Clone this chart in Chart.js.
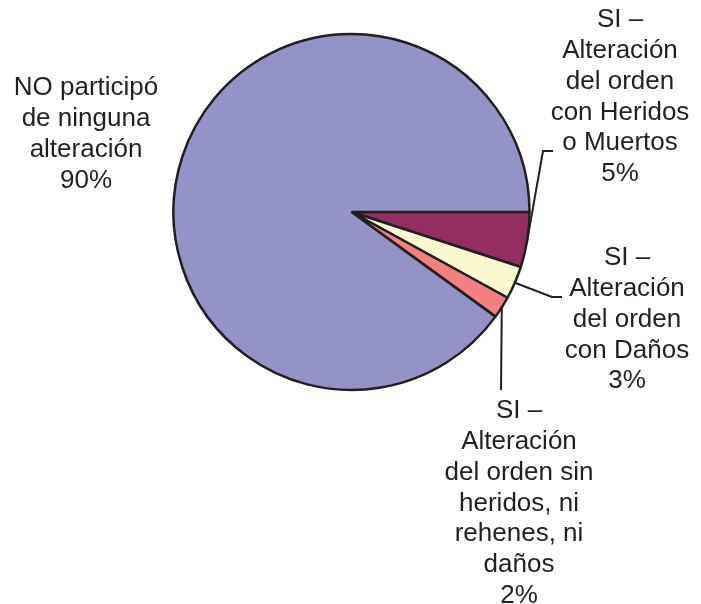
<!DOCTYPE html>
<html><head><meta charset="utf-8">
<script src="https://cdn.jsdelivr.net/npm/chart.js@4"></script>
<style>html,body{margin:0;padding:0;background:#fff}#wrap{width:701px;height:604px}</style>
</head><body><div id="wrap"><canvas id="c" width="701" height="604"></canvas></div>
<script>
const categories = [
  "SI – Alteración del orden con Heridos o Muertos",
  "SI – Alteración del orden con Daños",
  "SI – Alteración del orden sin heridos, ni rehenes, ni daños",
  "NO participó de ninguna alteración"
];
const values = [5, 3, 2, 90];
const labelLines = [
  ["SI –", "Alteración", "del orden", "con Heridos", "o Muertos", "5%"],
  ["SI –", "Alteración", "del orden", "con Daños", "3%"],
  ["SI –", "Alteración", "del orden sin", "heridos, ni", "rehenes, ni", "daños", "2%"],
  ["NO participó", "de ninguna", "alteración", "90%"]
];
const colors = ["#932D62", "#FAF9D2", "#F28080", "#9393C7"];

// label layout (positions only)
const labelLayout = [
  {x: 620, y: 20, leader: [[543,151],[553,151]]},
  {x: 627, y: 258, leader: [[552,297],[562,297]]},
  {x: 519, y: 411, leader: [[501,390]]},
  {x: 86, y: 88, leader: null}
];
const LH = 30.8;

const labelPlugin = {
  id: 'labels',
  afterDatasetsDraw(chart) {
    const ctx = chart.ctx;
    const meta = chart.getDatasetMeta(0);
    ctx.save();
    ctx.strokeStyle = '#231F20';
    ctx.lineWidth = 2;
    meta.data.forEach((arc, i) => {
      const L = labelLayout[i];
      if (L.leader) {
        const mid = (arc.startAngle + arc.endAngle) / 2;
        const sx = arc.x + Math.cos(mid) * arc.outerRadius;
        const sy = arc.y + Math.sin(mid) * arc.outerRadius;
        ctx.beginPath();
        ctx.moveTo(sx, sy);
        L.leader.forEach(p => ctx.lineTo(p[0], p[1]));
        ctx.stroke();
      }
    });
    ctx.fillStyle = '#231F20';
    ctx.font = '26px "Liberation Sans", Arial, sans-serif';
    ctx.textAlign = 'center';
    ctx.textBaseline = 'middle';
    labelLines.forEach((lines, i) => {
      const L = labelLayout[i];
      lines.forEach((t, j) => ctx.fillText(t, L.x, L.y + j * LH));
    });
    ctx.restore();
  }
};

new Chart(document.getElementById('c'), {
  type: 'pie',
  data: {
    labels: categories,
    datasets: [{
      data: values,
      backgroundColor: colors,
      borderColor: '#231F20',
      borderWidth: 2.5,
      borderAlign: 'center'
    }]
  },
  options: {
    responsive: false,
    animation: false,
    rotation: 90,
    radius: 178,
    layout: {padding: {left: 173, right: 171, top: 34, bottom: 214}},
    plugins: {legend: {display: false}, tooltip: {enabled: false}}
  },
  plugins: [labelPlugin]
});
</script>
</body></html>
